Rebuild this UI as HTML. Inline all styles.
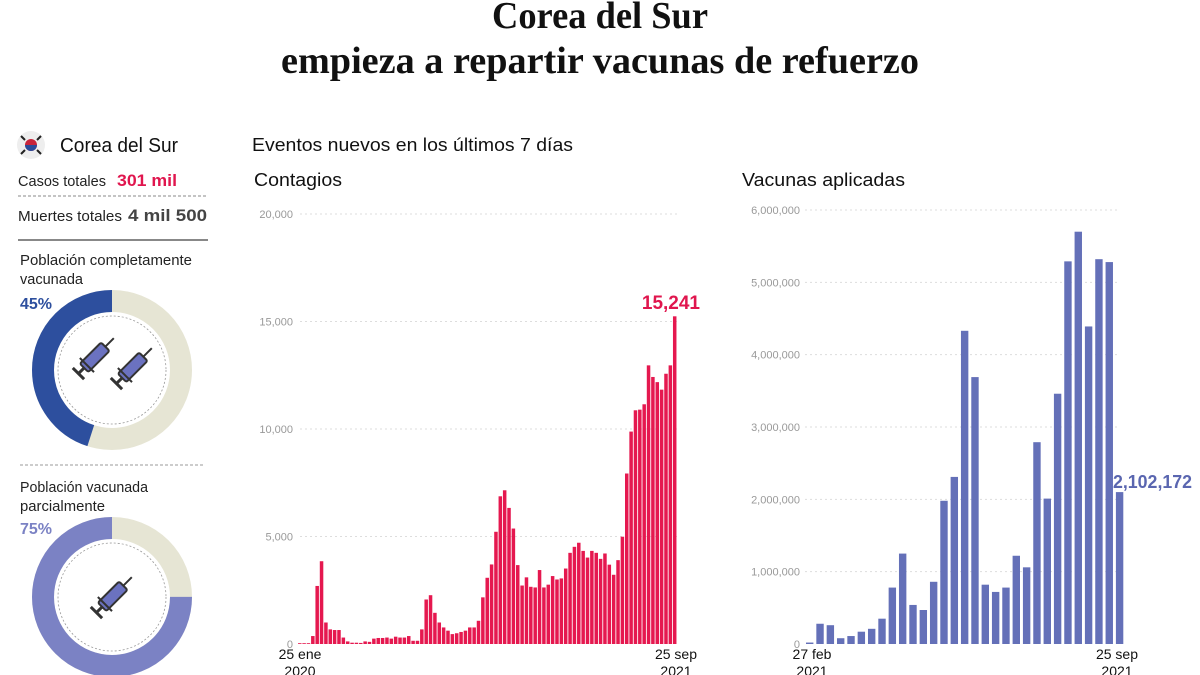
<!DOCTYPE html>
<html><head><meta charset="utf-8"><style>
body{margin:0;background:#fff;width:1200px;height:675px;overflow:hidden}
svg{display:block}
text{font-family:"Liberation Sans","DejaVu Sans",sans-serif}
text.serif{font-family:"Liberation Serif",serif}
</style></head><body>
<svg id="s" width="1200" height="675" viewBox="0 0 1200 675">
<text class="serif" x="600" y="28" text-anchor="middle" font-weight="bold" font-size="38" fill="#111" textLength="216" lengthAdjust="spacingAndGlyphs">Corea del Sur</text>
<text class="serif" x="600" y="73" text-anchor="middle" font-weight="bold" font-size="38" fill="#111" textLength="638" lengthAdjust="spacingAndGlyphs">empieza a repartir vacunas de refuerzo</text>

<circle cx="31" cy="145" r="14" fill="#eee"/>
<circle cx="31" cy="145" r="6" fill="#c8243b"/>
<path d="M25 145 a6 6 0 0 0 12 0z" fill="#2a4c9a"/>
<g stroke="#222" stroke-width="2"><line x1="21" y1="136" x2="25" y2="140"/><line x1="37" y1="150" x2="41" y2="154"/><line x1="41" y1="136" x2="37" y2="140"/><line x1="21" y1="154" x2="25" y2="150"/></g>
<text x="60" y="152" font-size="20" fill="#111" textLength="118" lengthAdjust="spacingAndGlyphs">Corea del Sur</text>
<text x="18" y="186" font-size="15" fill="#222" textLength="88" lengthAdjust="spacingAndGlyphs">Casos totales</text>
<text x="117" y="186" font-size="17" font-weight="bold" fill="#e0164e" textLength="60" lengthAdjust="spacingAndGlyphs">301 mil</text>
<line x1="18" y1="196" x2="207" y2="196" stroke="#888" stroke-dasharray="3 2"/>
<text x="18" y="221" font-size="15" fill="#222" textLength="104" lengthAdjust="spacingAndGlyphs">Muertes totales</text>
<text x="128" y="221" font-size="17" font-weight="bold" fill="#444" textLength="79" lengthAdjust="spacingAndGlyphs">4 mil 500</text>
<line x1="18" y1="240" x2="208" y2="240" stroke="#888" stroke-width="2"/>
<text x="20" y="265" font-size="15" fill="#222" textLength="172" lengthAdjust="spacingAndGlyphs">Población completamente</text>
<text x="20" y="284" font-size="15" fill="#222" textLength="63" lengthAdjust="spacingAndGlyphs">vacunada</text>
<text x="20" y="309" font-size="16" font-weight="bold" fill="#2d4f9e">45%</text>
<line x1="20" y1="465" x2="205" y2="465" stroke="#999" stroke-dasharray="3 2"/>
<text x="20" y="492" font-size="15" fill="#222" textLength="128" lengthAdjust="spacingAndGlyphs">Población vacunada</text>
<text x="20" y="511" font-size="15" fill="#222" textLength="85" lengthAdjust="spacingAndGlyphs">parcialmente</text>
<text x="20" y="534" font-size="16" font-weight="bold" fill="#7b82c4">75%</text>

<text x="252" y="151" font-size="18" fill="#111" textLength="321" lengthAdjust="spacingAndGlyphs">Eventos nuevos en los últimos 7 días</text>
<text x="254" y="186" font-size="18" fill="#111" textLength="88" lengthAdjust="spacingAndGlyphs">Contagios</text>
<text x="742" y="186" font-size="18" fill="#111" textLength="163" lengthAdjust="spacingAndGlyphs">Vacunas aplicadas</text>
<g id="g"></g>
</svg>
<script>
const g=document.getElementById('g');let h='';
function donut(cx,cy,p,col){const R=69,w=22;const C=2*Math.PI*R;
h+=`<circle cx="${cx}" cy="${cy}" r="${R}" fill="none" stroke="#e6e5d4" stroke-width="${w}"/>`;
h+=`<circle cx="${cx}" cy="${cy}" r="${R}" fill="none" stroke="${col}" stroke-width="${w}" stroke-dasharray="${C*p} ${C}" transform="translate(${cx} ${cy}) scale(-1 1) rotate(-90) translate(${-cx} ${-cy})"/>`;
h+=`<circle cx="${cx}" cy="${cy}" r="54" fill="none" stroke="#999" stroke-dasharray="2 2" stroke-width="0.8"/>`;}
donut(112,370,0.45,'#2d4f9e');donut(112,597,0.75,'#7b82c4');
function syr(x,y){h+=`<g transform="translate(${x} ${y}) rotate(-45)"><rect x="-14" y="-6" width="30" height="12" rx="2" fill="#6b72c0" stroke="#333" stroke-width="2"/><line x1="16" y1="0" x2="28" y2="0" stroke="#333" stroke-width="2"/><line x1="-14" y1="0" x2="-22" y2="0" stroke="#333" stroke-width="3"/><line x1="-22" y1="-8" x2="-22" y2="8" stroke="#333" stroke-width="3"/><line x1="-10" y1="-10" x2="-10" y2="10" stroke="#333" stroke-width="2"/></g>`;}
syr(94,358);syr(132,368);syr(112,597);
const c=[0,0,0,370,2700,3850,1000,680,650,650,300,120,60,60,50,120,100,250,280,280,300,250,340,300,300,370,150,150,680,2070,2270,1450,1000,770,620,460,500,560,620,770,770,1080,2170,3080,3700,5220,6870,7150,6330,5370,3670,2720,3100,2660,2630,3440,2630,2760,3160,3000,3050,3510,4240,4520,4710,4330,4020,4330,4240,3960,4210,3690,3220,3900,4990,7930,9880,10870,10900,11150,12960,12420,12180,11830,12570,12960,15241];
const y0=644,sc=430/20000;
[0,5000,10000,15000,20000].forEach(v=>{const y=y0-v*sc;if(v)h+=`<line x1="300" y1="${y}" x2="680" y2="${y}" stroke="#ddd" stroke-dasharray="2 3"/>`;h+=`<text x="293" y="${y+4}" font-size="11" fill="#999" text-anchor="end">${v.toLocaleString('en-US')}</text>`;});
c.forEach((v,i)=>{const x=298+i*4.36;const hh=Math.max(v*sc,0.8);h+=`<rect x="${x}" y="${y0-hh}" width="3.5" height="${hh}" fill="#e5184f"/>`;});
h+=`<text x="700" y="309" font-size="19" font-weight="bold" fill="#e0164e" text-anchor="end">15,241</text>`;
h+=`<text x="300" y="659" font-size="14" fill="#111" text-anchor="middle">25 ene</text><text x="300" y="676" font-size="14" fill="#111" text-anchor="middle">2020</text>`;
h+=`<text x="676" y="659" font-size="14" fill="#111" text-anchor="middle">25 sep</text><text x="676" y="676" font-size="14" fill="#111" text-anchor="middle">2021</text>`;
const v=[0.02,0.28,0.26,0.08,0.11,0.17,0.21,0.35,0.78,1.25,0.54,0.47,0.86,1.98,2.31,4.33,3.69,0.82,0.72,0.78,1.22,1.06,2.79,2.01,3.46,5.29,5.70,4.39,5.32,5.28,2.10];
const s2=434/6;
[0,1,2,3,4,5,6].forEach(k=>{const y=y0-k*s2;if(k)h+=`<line x1="805" y1="${y}" x2="1120" y2="${y}" stroke="#ddd" stroke-dasharray="2 3"/>`;h+=`<text x="800" y="${y+4}" font-size="11" fill="#999" text-anchor="end">${(k*1000000).toLocaleString('en-US')}</text>`;});
v.forEach((val,i)=>{const x=806+i*10.33;const hh=val*s2;h+=`<rect x="${x}" y="${y0-hh}" width="7.4" height="${hh}" fill="#6470b8"/>`;});
h+=`<text x="1113" y="488" font-size="18" font-weight="bold" fill="#5a66b0" textLength="79" lengthAdjust="spacingAndGlyphs">2,102,172</text>`;
h+=`<text x="812" y="659" font-size="14" fill="#111" text-anchor="middle">27 feb</text><text x="812" y="676" font-size="14" fill="#111" text-anchor="middle">2021</text>`;
h+=`<text x="1117" y="659" font-size="14" fill="#111" text-anchor="middle">25 sep</text><text x="1117" y="676" font-size="14" fill="#111" text-anchor="middle">2021</text>`;
g.innerHTML=h;
</script>
</body></html>
